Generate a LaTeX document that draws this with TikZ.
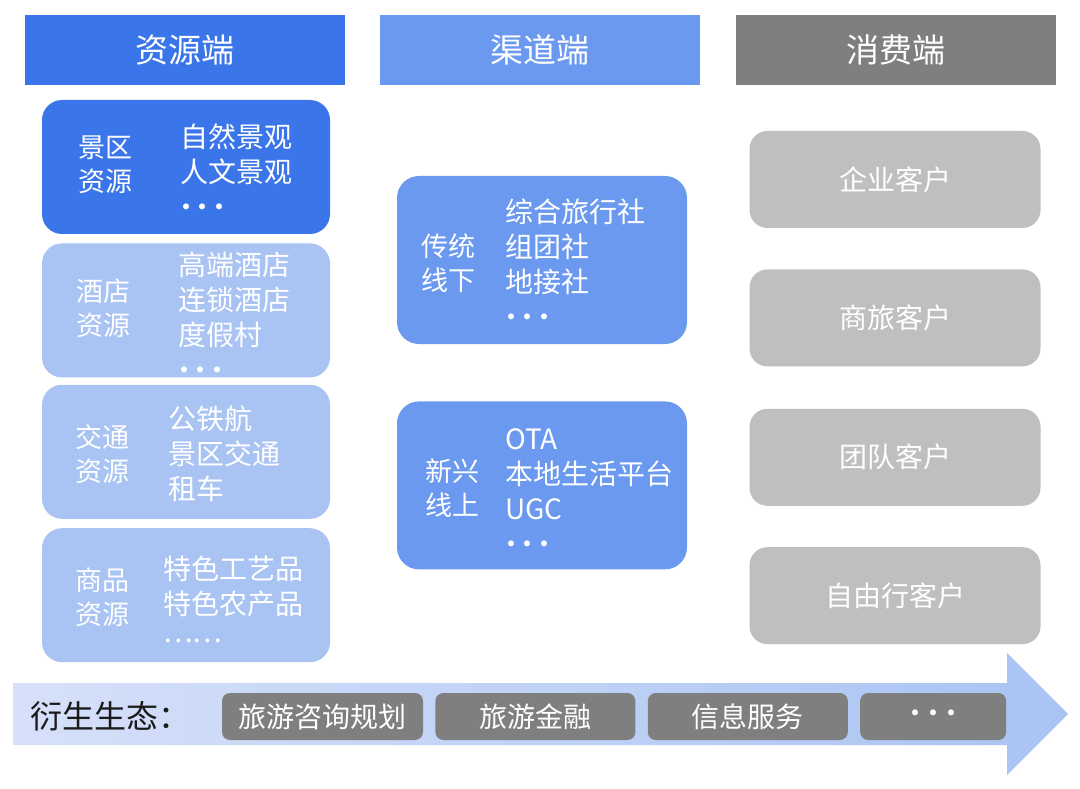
\documentclass[tikz,border=0pt]{standalone}
\usepackage{fontspec}
\setmainfont{Noto Sans CJK SC}
\usepackage{xcolor}
\usetikzlibrary{positioning, shadings}
\definecolor{tourblue}{HTML}{3A75E9}
\definecolor{tourmid}{HTML}{6A99EF}
\definecolor{tourlight}{HTML}{A9C3F3}
\definecolor{tourpale}{HTML}{D6E0F9}
\definecolor{tourgray}{HTML}{7F7F7F}
\definecolor{toursilver}{HTML}{BFBFBF}
\definecolor{tourink}{HTML}{1A1A1A}
\newcommand{\dotrow}{\hspace*{-2pt}\makebox[16.5pt]{·}\makebox[16.5pt]{·}\makebox[16.5pt]{·}}

\begin{document}
\begin{tikzpicture}[
  x=1pt, y=-1pt,
  head/.style={rectangle, minimum width=320pt, minimum height=70pt, text=white, font=\fontsize{33}{36}\selectfont},
  res/.style={rectangle, rounded corners=20pt, minimum width=288pt, minimum height=134pt, fill=tourlight},
  chan/.style={rectangle, rounded corners=22pt, minimum width=290pt, minimum height=168pt, fill=tourmid},
  cust/.style={rectangle, rounded corners=18pt, minimum width=291pt, minimum height=97pt, fill=toursilver, text=white, font=\fontsize{28}{34}\selectfont},
  tag/.style={inner sep=0pt, align=center, text=white, font=\fontsize{27}{34}\selectfont},
  items/.style={inner sep=0pt, align=left, anchor=west, text=white, font=\fontsize{28}{35}\selectfont},
  pill/.style={rectangle, rounded corners=8pt, minimum height=47pt, fill=tourgray, text=white, font=\fontsize{28}{34}\selectfont},
]
\useasboundingbox[fill=white] (0,0) rectangle (1080,789);

\node[head, fill=tourblue] (src) at (185,50) {资源端};
\node[head, fill=tourmid, right=35pt of src] (chn) {渠道端};
\node[head, fill=tourgray, right=35pt of chn] (con) {消费端};

\node[res, fill=tourblue] (scenic) at (186,167) {};
\node[res, below=9pt of scenic] (hotel) {};
\node[res, below=7pt of hotel] (traffic) {};
\node[res, below=9pt of traffic] (goods) {};

\node[tag] (scenictag) at (105,165) {景区\\资源};
\node[items] (scenicitems) at (180,171) {自然景观\\人文景观\\\dotrow};
\node[tag] (hoteltag) at (103,308) {酒店\\资源};
\node[items] (hotelitems) at (178,316) {高端酒店\\连锁酒店\\度假村\\\dotrow};
\node[tag] (traffictag) at (102,454) {交通\\资源};
\node[items] (trafficitems) at (168,454) {公铁航\\景区交通\\租车};
\node[tag] (goodstag) at (102,597) {商品\\资源};
\node[items] (goodsitems) at (163,603) {特色工艺品\\特色农产品\\\raisebox{7pt}{……}};

\node[chan] (offline) at (542,260) {};
\node[chan, below=57pt of offline] (online) {};
\node[tag] (offlinetag) at (448,263) {传统\\线下};
\node[items] (offlineitems) at (505,263) {综合旅行社\\组团社\\地接社\\\dotrow};
\node[tag] (onlinetag) at (452,488) {新兴\\线上};
\node[items] (onlineitems) at (505,492) {OTA\\本地生活平台\\UGC\\\dotrow};

\node[cust] (corp) at (895,179.5) {企业客户};
\node[cust, below=41pt of corp] (biz) {商旅客户};
\node[cust, below=42pt of biz] (group) {团队客户};
\node[cust, below=41pt of group] (solo) {自由行客户};

\shade[left color=tourpale, right color=tourlight] (13,683) -- (1007,683) -- (1007,653) -- (1068,714) -- (1007,775) -- (1007,745) -- (13,745) -- cycle;

\node[anchor=west, inner sep=0pt, text=tourink, font=\fontsize{32}{36}\selectfont] (derive) at (30,716) {衍生生态：};
\node[pill, minimum width=201pt] (plan) at (322.5,716.5) {旅游咨询规划};
\node[pill, minimum width=200pt, right=12pt of plan] (finance) {旅游金融};
\node[pill, minimum width=200pt, right=12pt of finance] (info) {信息服务};
\node[pill, minimum width=146pt, right=12pt of info] (more) {\raisebox{-3pt}{\makebox[18pt]{·}\makebox[18pt]{·}\makebox[18pt]{·}}};
\end{tikzpicture}
\end{document}
